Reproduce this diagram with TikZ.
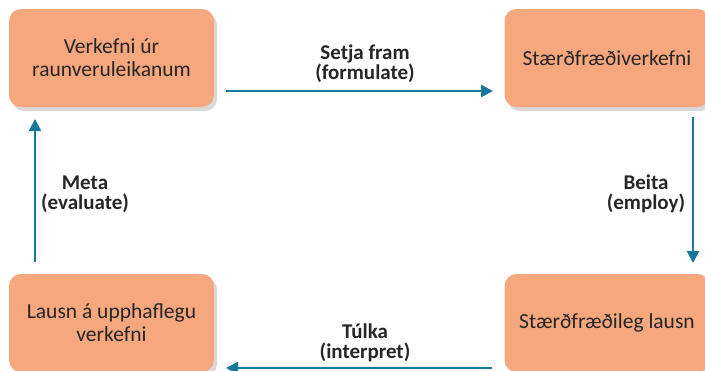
\documentclass[tikz,border=0pt]{standalone}
\usepackage{fontspec}
\setmainfont{Carlito}
\usetikzlibrary{shadows,arrows.meta}
\definecolor{boxfill}{HTML}{F6A77E}
\definecolor{arrowc}{HTML}{16789A}
\definecolor{txt}{HTML}{262626}
\tikzset{
  box/.style={fill=boxfill, rounded corners=12pt, minimum width=205pt, minimum height=98pt,
    align=center, text=txt, font=\fontsize{21.5}{23}\selectfont,
    drop shadow={opacity=0.3, shadow xshift=3pt, shadow yshift=-4pt}},
  conn/.style={draw=arrowc, line width=2.6pt, -{Triangle[length=12pt,width=12pt]}},
  lab/.style={align=center, text=txt, font=\fontsize{21}{20}\bfseries\selectfont}
}
\begin{document}
\begin{tikzpicture}[x=1pt,y=-1pt]
\useasboundingbox (0,0) rectangle (705,370);
\clip (0,0) rectangle (705,370);
\node[box] (tl) at (111.5,58) {Verkefni úr\\raunveruleikanum};
\node[box] (tr) at (607,58) {Stærðfræðiverkefni};
\node[box] (bl) at (111.5,323) {Lausn á upphaflegu\\verkefni};
\node[box] (br) at (607,323) {Stærðfræðileg lausn};
\coordinate (a1) at (226,91);
\coordinate (a2) at (493,91);
\coordinate (b1) at (693,117);
\coordinate (b2) at (693,263);
\coordinate (c1) at (492,368);
\coordinate (c2) at (226,368);
\coordinate (d1) at (35,262);
\coordinate (d2) at (35,119);
\draw[conn] (a1) -- (a2);
\draw[conn] (b1) -- (b2);
\draw[conn] (c1) -- (c2);
\draw[conn] (d1) -- (d2);
\node[lab] (l1) at (365,64) {Setja fram\\(formulate)};
\node[lab] (l2) at (646,194) {Beita\\(employ)};
\node[lab] (l3) at (365,343) {Túlka\\(interpret)};
\node[lab] (l4) at (85,194) {Meta\\(evaluate)};
\end{tikzpicture}
\end{document}
